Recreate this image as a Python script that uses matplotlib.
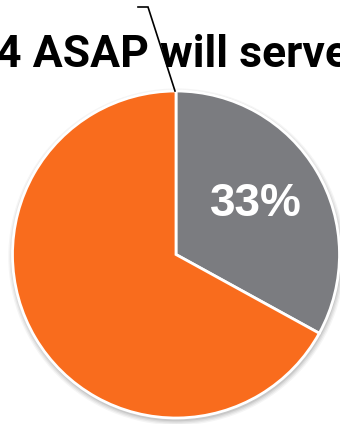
import matplotlib.pyplot as plt
from matplotlib.patches import Circle

# slice shares
labels = ['Yes', 'No']
shares = [33, 67]
colors = ['#7b7c80', '#f96c1d']

W, H = 340, 424
cx, cy, R = 176, 254.5, 163.5


def px(x, y):
    # pixel position (from top-left) -> axes data units (pie radius = 1)
    return (x - cx) / R, (cy - y) / R


fig = plt.figure(figsize=(W / 100, H / 100), dpi=100)
ax = fig.add_axes([0, 0, 1, 1])

# soft drop shadow under the pie
for i, a in enumerate([0.04, 0.05, 0.06, 0.08]):
    ax.add_patch(Circle((0.004, -0.014), 1.03 - i * 0.008, color='#000000',
                        alpha=a, lw=0, zorder=0))

wedges, texts = ax.pie(shares, colors=colors, startangle=90, counterclock=False,
                       radius=1, center=(0, 0), frame=True,
                       wedgeprops=dict(edgecolor='white', linewidth=2))
ax.set_xlim(-cx / R, (W - cx) / R)
ax.set_ylim(-(H - cy) / R, cy / R)
ax.set_aspect('auto')
ax.axis('off')

# percentage label inside the grey slice
lx, ly = px(256, 204)
ax.text(lx, ly, f'{shares[0]}%', color='white', fontsize=33, fontweight='bold',
        family='Liberation Sans', ha='center', va='center')

# heading running off both edges
tx, ty = px(-4, 67)
ax.text(tx, ty, '4 ASAP will serve', color='black', fontsize=32,
        fontweight='bold', family='Roboto', ha='left', va='baseline')

# leader line down to the top of the pie
pts = [px(138, 7), px(148, 7), px(175, 91)]
ax.plot([p[0] for p in pts], [p[1] for p in pts], color='black', lw=1.2,
        zorder=5, solid_joinstyle='miter')

fig.savefig('out.png', dpi=100)
